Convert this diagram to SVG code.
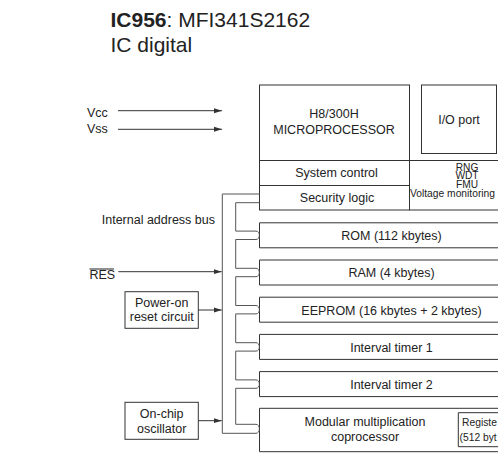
<svg xmlns="http://www.w3.org/2000/svg" width="498" height="469" viewBox="0 0 498 469">
<style>
text{font-family:"Liberation Sans",Arial,sans-serif;fill:#222;font-size:12.5px}
.c{text-anchor:middle}
.s{font-size:10.2px}
.r{font-size:10.3px}
.box{fill:none;stroke:#333;stroke-width:1}
.bus{fill:none;stroke:#555;stroke-width:1}
.arr{fill:none;stroke:#333;stroke-width:1;marker-end:url(#ah)}
</style>
<defs>
<marker id="ah" markerUnits="userSpaceOnUse" markerWidth="8" markerHeight="6" refX="8" refY="3" orient="auto">
<path d="M0,0.5 L8,3 L0,5.5 z" fill="#333"/>
</marker>
</defs>
<rect width="498" height="469" fill="#fff"/>
<g id="title">
<text x="110.5" y="27" style="font-size:21px"><tspan font-weight="bold">IC956</tspan>: MFI341S2162</text>
<text x="110.5" y="52" style="font-size:21px">IC digital</text>
</g>
<g id="microprocessor">
<rect class="box" x="259.5" y="85" width="150" height="125"/>
<line class="box" x1="259.5" y1="160.5" x2="409.5" y2="160.5"/>
<line class="box" x1="259.5" y1="185.5" x2="409.5" y2="185.5"/>
<text class="c" x="334" y="117.5">H8/300H</text>
<text class="c" x="334" y="134">MICROPROCESSOR</text>
<text class="c" x="336.5" y="176.5">System control</text>
<text class="c" x="337" y="201.5">Security logic</text>
</g>
<g id="io-port">
<rect class="box" x="421.5" y="85" width="75" height="68.5"/>
<text class="c" x="459" y="124">I/O port</text>
</g>
<g id="rng-block">
<path class="box" d="M409.5,160.5 H498 M409.5,210 H498"/>
<text class="c s" x="467" y="170.5">RNG</text>
<text class="c s" x="467" y="179.3">WDT</text>
<text class="c s" x="467" y="188.1">FMU</text>
<text class="s" x="410" y="196.8" textLength="85" lengthAdjust="spacingAndGlyphs">Voltage monitoring</text>
</g>
<g id="rom">
<path class="box" d="M498,222.8 H259.5 V247.8 H498"/>
<text class="c" x="391.5" y="240.1">ROM (112 kbytes)</text>
</g>
<g id="ram">
<path class="box" d="M498,260 H259.5 V285 H498"/>
<text class="c" x="391.5" y="277.3">RAM (4 kbytes)</text>
</g>
<g id="eeprom">
<path class="box" d="M498,297.2 H259.5 V322.2 H498"/>
<text class="c" x="391.5" y="314.5">EEPROM (16 kbytes + 2 kbytes)</text>
</g>
<g id="timer1">
<path class="box" d="M498,334.4 H259.5 V359.4 H498"/>
<text class="c" x="391.5" y="351.7">Interval timer 1</text>
</g>
<g id="timer2">
<path class="box" d="M498,371.6 H259.5 V396.6 H498"/>
<text class="c" x="391.5" y="388.9">Interval timer 2</text>
</g>
<g id="coprocessor">
<path class="box" d="M498,408.3 H259.5 V451.7 H498"/>
<text class="c" x="365" y="426">Modular multiplication</text>
<text class="c" x="365" y="440.5">coprocessor</text>
<path class="box" d="M498,412.7 H458.3 V446.7 H498"/>
<text class="r" x="462" y="426">Registe</text>
<text class="r" x="459.5" y="441">(512 byt</text>
</g>
<g id="power-on-reset">
<rect class="box" x="125" y="291.7" width="73.3" height="36.6"/>
<text class="c" x="161.7" y="306.7">Power-on</text>
<text class="c" x="161.7" y="320.7">reset circuit</text>
</g>
<g id="oscillator">
<rect class="box" x="125" y="402.3" width="73.3" height="37"/>
<text class="c" x="161.7" y="418.3">On-chip</text>
<text class="c" x="161.7" y="432.7">oscillator</text>
</g>
<g id="labels">
<text x="87" y="116.5">Vcc</text>
<text x="87" y="132.5">Vss</text>
<text x="89.5" y="279.3">RES</text>
<line x1="89.5" y1="269" x2="114" y2="269" stroke="#222" stroke-width="1"/>
<text x="215" y="224" text-anchor="end">Internal address bus</text>
</g>
<g id="connectors">
<path class="bus" d="M259.5,202.7 H235.7 V231.1 H256 C260.5,231.1 260.5,239.5 256,239.5 H235.7 V268.3 H256 C260.5,268.3 260.5,276.7 256,276.7 H235.7 V305.5 H256 C260.5,305.5 260.5,313.9 256,313.9 H235.7 V342.7 H256 C260.5,342.7 260.5,351.1 256,351.1 H235.7 V379.9 H256 C260.5,379.9 260.5,388.3 256,388.3 H235.7 V424.3 H256 C260.5,424.3 260.5,433.3 256,433.3 H222.3 V194 H259.5"/>
<line class="arr" x1="118" y1="110.7" x2="222" y2="110.7"/>
<line class="arr" x1="118" y1="129.3" x2="222" y2="129.3"/>
<line class="arr" x1="118.3" y1="271.7" x2="221.7" y2="271.7"/>
<line class="arr" x1="198.3" y1="310" x2="221.7" y2="310"/>
<line class="arr" x1="198.3" y1="420.7" x2="221.7" y2="420.7"/>
</g>
</svg>
